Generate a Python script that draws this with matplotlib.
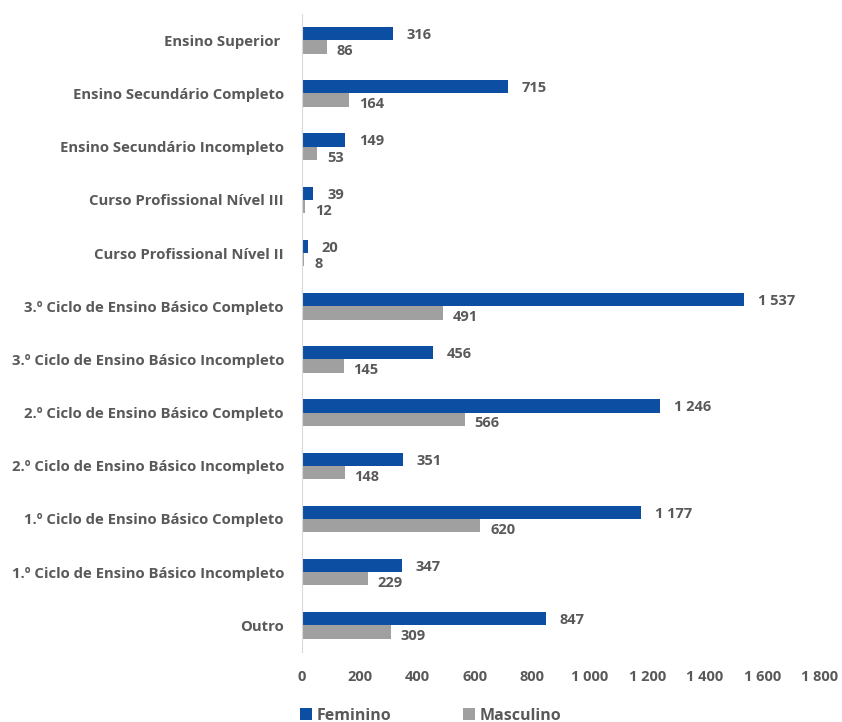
import matplotlib.pyplot as plt
import numpy as np

categorias = [
    "Ensino Superior ",
    "Ensino Secundário Completo",
    "Ensino Secundário Incompleto",
    "Curso Profissional Nível III",
    "Curso Profissional Nível II",
    "3.º Ciclo de Ensino Básico Completo",
    "3.º Ciclo de Ensino Básico Incompleto",
    "2.º Ciclo de Ensino Básico Completo",
    "2.º Ciclo de Ensino Básico Incompleto",
    "1.º Ciclo de Ensino Básico Completo",
    "1.º Ciclo de Ensino Básico Incompleto",
    "Outro",
]
feminino = [316, 715, 149, 39, 20, 1537, 456, 1246, 351, 1177, 347, 847]
masculino = [86, 164, 53, 12, 8, 491, 145, 566, 148, 620, 229, 309]
xticks = [0, 200, 400, 600, 800, 1000, 1200, 1400, 1600, 1800]

azul = "#0B4EA2"
cinza = "#A0A0A0"
texto = "#595959"

plt.rcParams['font.family'] = ['Open Sans', 'DejaVu Sans']
plt.rcParams['font.weight'] = 'bold'

fig = plt.figure(figsize=(8.42, 7.22), dpi=100)
ax = fig.add_axes([0.3587, 0.097, 0.615, 0.884])

y = np.arange(len(categorias))
h = 0.25
b1 = ax.barh(y - h / 2, feminino, height=h, color=azul, label="Feminino")
b2 = ax.barh(y + h / 2, masculino, height=h, color=cinza, label="Masculino")

def fmt(v):
    return f"{v:,}".replace(",", " ")

for yi, v in zip(y, feminino):
    ax.annotate(fmt(v), (v, yi - h / 2), xytext=(10, -1), textcoords="offset points",
                va="center", ha="left", fontsize=10.5, color=texto, fontweight="bold")
for yi, v in zip(y, masculino):
    ax.annotate(fmt(v), (v, yi + h / 2), xytext=(7, -3), textcoords="offset points",
                va="center", ha="left", fontsize=10.5, color=texto, fontweight="bold")

ax.set_ylim(len(categorias) - 0.5, -0.5)
ax.set_xlim(0, 1800)
ax.set_yticks(y)
ax.set_yticklabels(categorias, fontsize=10.7, color=texto, fontweight="bold")
ax.set_xticks(xticks)
ax.set_xticklabels([fmt(t) for t in xticks], fontsize=10.5, color=texto, fontweight="bold")
ax.tick_params(axis="both", length=0)
ax.tick_params(axis="y", pad=13)
ax.tick_params(axis="x", pad=13)

for s in ["top", "right", "bottom"]:
    ax.spines[s].set_visible(False)
ax.spines["left"].set_color("#D9D9D9")

leg = fig.legend(handles=[b1, b2], loc="lower left", bbox_to_anchor=(0.339, -0.022),
                 ncol=2, frameon=False, fontsize=11.5, handlelength=0.75, handleheight=0.75,
                 handletextpad=0.3, columnspacing=4.5)
for t in leg.get_texts():
    t.set_color(texto)
    t.set_fontweight("bold")

fig.savefig("out.png", dpi=100)
